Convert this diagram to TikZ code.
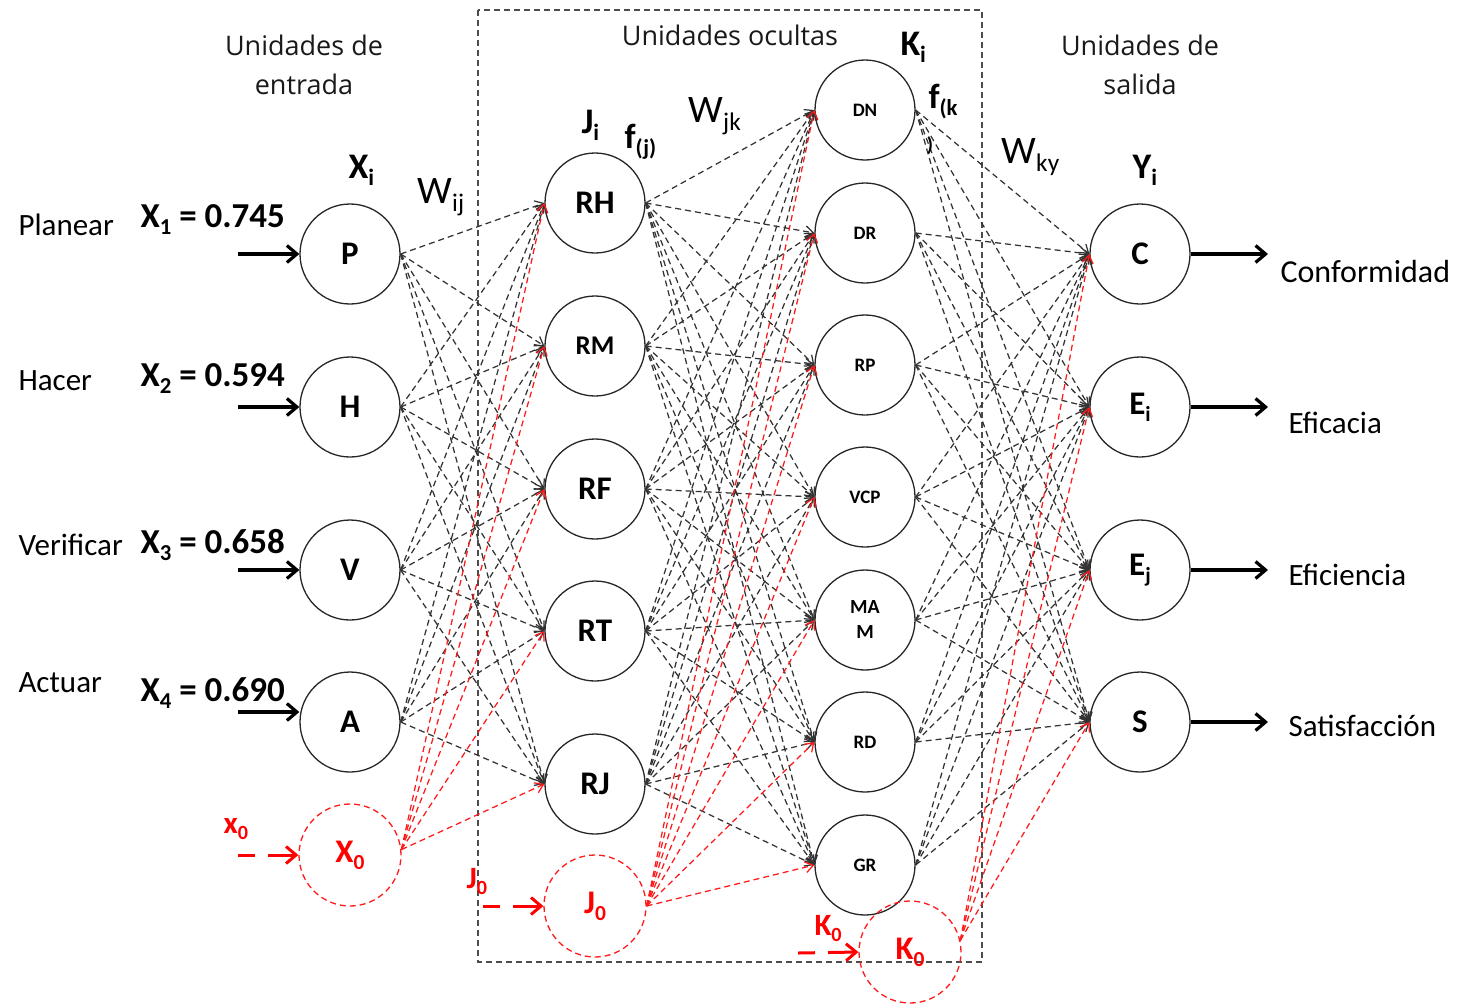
\documentclass[tikz,border=0pt]{standalone}
\usepackage{fontspec}
\setmainfont{Carlito}
\newfontfamily\hdfont{Open Sans}
\usetikzlibrary{arrows.meta}
\newcommand\fsz[1]{\fontsize{#1}{#1}\selectfont}
\newcommand\lsub[1]{\raisebox{-0.45ex}{\scalebox{0.65}{#1}}}
\begin{document}
\begin{tikzpicture}[x=1pt,y=-1pt,
  neuron/.style={circle, draw=black!85, line width=1.3pt, minimum size=100pt, inner sep=0pt, font=\bfseries\fsz{33}},
  smallneuron/.style={neuron, font=\bfseries\fsz{19}},
  bias/.style={circle, draw=red!90, line width=1.3pt, dash pattern=on 6pt off 4pt, minimum size=102pt, inner sep=0pt, text=red, font=\bfseries\fsz{33}},
  link/.style={draw=black!80, line width=1.25pt, dash pattern=on 6pt off 4pt, -{Straight Barb[length=8pt,width=11pt]}},
  rlink/.style={link, draw=red!90},
  fat/.style={line width=3.2pt, -{Straight Barb[length=10pt,width=17pt]}},
  redfat/.style={draw=red, line width=3pt, dash pattern=on 17pt off 13pt on 60pt, -{Straight Barb[length=10pt,width=17pt]}},
  boxline/.style={draw=black!70, line width=1.5pt, dash pattern=on 6pt off 4pt},
  hdr/.style={font=\hdfont\fsz{27}, anchor=base, text=black!90},
  txt/.style={font=\fsz{31}, anchor=base west},
  val/.style={font=\bfseries\fsz{35}, anchor=base west},
  sym/.style={font=\bfseries\fsz{36}, anchor=base west},
  wt/.style={font=\fsz{39}, anchor=base west},
  rlab/.style={font=\bfseries\fsz{31}, anchor=base west, text=red}]
\useasboundingbox (0,0) rectangle (1461,1005);

% hidden-layer frame
\draw[boxline] (478,10) rectangle (982,962);

% headers
\node[hdr] (h1a) at (304,55) {Unidades de};
\node[hdr] (h1b) at (304,94) {entrada};
\node[hdr] (h2) at (730,45) {Unidades ocultas};
\node[hdr] (h3a) at (1140,55) {Unidades de};
\node[hdr] (h3b) at (1140,94) {salida};

% input layer
\node[neuron] (P) at (350,254) {P};
\node[neuron] (H) at (350,407) {H};
\node[neuron] (V) at (350,570) {V};
\node[neuron] (A) at (350,722) {A};
\node[bias] (X0) at (350,855) {X\lsub{0}};

% first hidden layer
\node[neuron] (RH) at (595,203) {RH};
\node[neuron, font=\bfseries\fsz{27}] (RM) at (595,346) {RM};
\node[neuron] (RF) at (595,489) {RF};
\node[neuron] (RT) at (595,631) {RT};
\node[neuron] (RJ) at (595,784) {RJ};
\node[bias] (J0) at (595,906) {J\lsub{0}};

% second hidden layer
\node[smallneuron] (DN) at (865,110) {DN};
\node[smallneuron] (DR) at (865,233) {DR};
\node[smallneuron] (RP) at (865,365) {RP};
\node[smallneuron] (VCP) at (865,497) {VCP};
\node[smallneuron, align=center, font=\bfseries\fsz{20}] (MAM) at (865,620) {MA\\[5pt]M};
\node[smallneuron] (RD) at (865,742) {RD};
\node[smallneuron] (GR) at (865,865) {GR};
\node[bias] (K0) at (910,952) {K\lsub{0}};

% output layer
\node[neuron] (C) at (1140,254) {C};
\node[neuron] (Ei) at (1140,407) {E\lsub{i}};
\node[neuron] (Ej) at (1140,570) {E\lsub{j}};
\node[neuron] (S) at (1140,722) {S};

% weighted connections
\foreach \s in {P,H,V,A}
  \foreach \t in {RH,RM,RF,RT,RJ}
    \draw[link] (\s.east) -- (\t.west);
\foreach \s in {RH,RM,RF,RT,RJ}
  \foreach \t in {DN,DR,RP,VCP,MAM,RD,GR}
    \draw[link] (\s.east) -- (\t.west);
\foreach \s in {DN,DR,RP,VCP,MAM,RD,GR}
  \foreach \t in {C,Ei,Ej,S}
    \draw[link] (\s.east) -- (\t.west);

% bias connections
\foreach \t in {RH,RM,RF,RT,RJ}
  \draw[rlink] (X0.6) -- (\t.west);
\foreach \t in {DN,DR,RP,VCP,MAM,RD,GR}
  \draw[rlink] (J0.east) -- (\t.west);
\foreach \t in {C,Ei,Ej,S}
  \draw[rlink] (K0.13) -- (\t.west);

% input arrows and labels
\coordinate (inP) at (238,254);
\coordinate (inH) at (238,407);
\coordinate (inV) at (238,570);
\coordinate (inA) at (238,712);
\draw[fat] (inP) -- (P.west);
\draw[fat] (inH) -- (H.west);
\draw[fat] (inV) -- (V.west);
\draw[fat] (inA) -- (inA -| A.west);

\node[txt] (lP) at (15,235) {Planear};
\node[txt] (lH) at (15,390) {Hacer};
\node[txt] (lV) at (15,555) {Verificar};
\node[txt] (lA) at (15,692) {Actuar};

\node[val] (x1) at (137,227) {X\lsub{1} = 0.745};
\node[val] (x2) at (137,386) {X\lsub{2} = 0.594};
\node[val] (x3) at (137,553) {X\lsub{3} = 0.658};
\node[val] (x4) at (137,701) {X\lsub{4} = 0.690};

% output arrows and labels
\coordinate (oC) at (1268,254);
\coordinate (oEi) at (1268,407);
\coordinate (oEj) at (1268,570);
\coordinate (oS) at (1268,722);
\draw[fat] (C.east) -- (oC);
\draw[fat] (Ei.east) -- (oEi);
\draw[fat] (Ej.east) -- (oEj);
\draw[fat] (S.east) -- (oS);

\node[font=\fsz{32}, anchor=base west] (lC) at (1277,282) {Conformidad};
\node[txt] (lEi) at (1285,433) {Eficacia};
\node[txt] (lEj) at (1285,585) {Eficiencia};
\node[txt] (lS) at (1285,736) {Satisfacción};

% layer symbols and weights
\node[sym] (Xi) at (345,178) {X\lsub{i}};
\node[wt] (Wij) at (414,203) {W\lsub{ij}};
\node[sym] (Ji) at (578,133) {J\lsub{i}};
\node[sym, font=\bfseries\fsz{35}] (fj) at (621,148) {f\lsub{(j)}};
\node[wt] (Wjk) at (685,122) {W\lsub{jk}};
\node[sym] (Ki) at (897,55) {K\lsub{i}};
\node[sym, font=\bfseries\fsz{35}] (fk) at (925,108) {f\lsub{(k}};
\node[font=\bfseries\fsz{20}] (fkclose) at (930,146) {)};
\node[wt] (Wky) at (998,163) {W\lsub{ky}};
\node[sym] (Yi) at (1129,178) {Y\lsub{i}};

% bias inputs
\coordinate (x0in) at (238,855);
\coordinate (j0in) at (483,906);
\coordinate (k0in) at (798,953);
\draw[redfat] (x0in) -- (X0.west);
\draw[redfat] (j0in) -- (J0.west);
\draw[redfat] (k0in) -- (K0.west);
\node[rlab] (x0lab) at (220,833) {x\lsub{0}};
\node[rlab] (j0lab) at (463,888) {J\lsub{0}};
\node[rlab] (k0lab) at (811,935) {K\lsub{0}};
\end{tikzpicture}
\end{document}
